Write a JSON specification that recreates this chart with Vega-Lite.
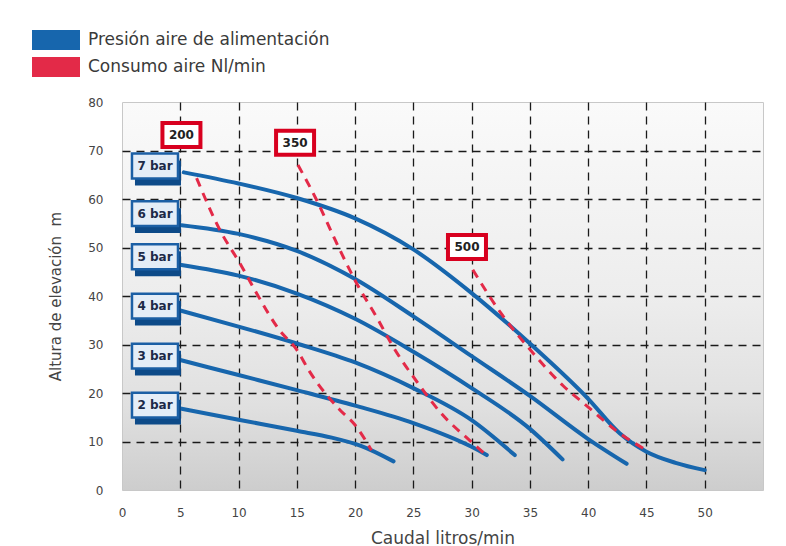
{
  "$schema": "https://vega.github.io/schema/vega-lite/v6.json",
  "autosize": {"type": "none"},
  "padding": {"left": 122, "top": 102, "right": 23, "bottom": 56},
  "width": 641,
  "height": 388,
  "background": "white",
  "config": {
    "font": "DejaVu Sans",
    "view": {
      "stroke": "#c8c8c8",
      "strokeWidth": 1,
      "fill": {"gradient": "linear", "x1": 0, "y1": 0, "x2": 0, "y2": 1,
        "stops": [
          {"offset": 0, "color": "#fafafa"},
          {"offset": 0.5, "color": "#ededed"},
          {"offset": 0.78, "color": "#e0e0e0"},
          {"offset": 1, "color": "#cdcdcd"}
        ]}
    },
    "axis": {
      "domain": false,
      "ticks": false,
      "labelFlush": false,
      "labelFont": "DejaVu Sans",
      "labelFontSize": 12,
      "labelColor": "#444444",
      "titleFont": "DejaVu Sans",
      "titleFontWeight": "normal",
      "titleColor": "#444444",
      "gridColor": "#1a1a1a",
      "gridDash": [8, 6],
      "gridWidth": 1.3
    }
  },
  "datasets": {
    "curves": [
      {"c": "7 bar", "t": "Presión aire de alimentación", "x": 5.3, "y": 65.5},
      {"c": "7 bar", "t": "Presión aire de alimentación", "x": 10, "y": 63.2},
      {"c": "7 bar", "t": "Presión aire de alimentación", "x": 15, "y": 60.2},
      {"c": "7 bar", "t": "Presión aire de alimentación", "x": 20, "y": 56},
      {"c": "7 bar", "t": "Presión aire de alimentación", "x": 25, "y": 49.6},
      {"c": "7 bar", "t": "Presión aire de alimentación", "x": 30, "y": 40.6},
      {"c": "7 bar", "t": "Presión aire de alimentación", "x": 35, "y": 30.2},
      {"c": "7 bar", "t": "Presión aire de alimentación", "x": 40, "y": 18.8},
      {"c": "7 bar", "t": "Presión aire de alimentación", "x": 42.7, "y": 11.7},
      {"c": "7 bar", "t": "Presión aire de alimentación", "x": 45, "y": 7.9},
      {"c": "7 bar", "t": "Presión aire de alimentación", "x": 47.5, "y": 5.6},
      {"c": "7 bar", "t": "Presión aire de alimentación", "x": 50, "y": 4.1},
      {"c": "6 bar", "t": "Presión aire de alimentación", "x": 5.1, "y": 54.6},
      {"c": "6 bar", "t": "Presión aire de alimentación", "x": 10, "y": 52.8},
      {"c": "6 bar", "t": "Presión aire de alimentación", "x": 15, "y": 49.3},
      {"c": "6 bar", "t": "Presión aire de alimentación", "x": 20, "y": 43.5},
      {"c": "6 bar", "t": "Presión aire de alimentación", "x": 25, "y": 35.8},
      {"c": "6 bar", "t": "Presión aire de alimentación", "x": 30, "y": 27.6},
      {"c": "6 bar", "t": "Presión aire de alimentación", "x": 35, "y": 19.4},
      {"c": "6 bar", "t": "Presión aire de alimentación", "x": 40, "y": 10.5},
      {"c": "6 bar", "t": "Presión aire de alimentación", "x": 43.3, "y": 5.4},
      {"c": "5 bar", "t": "Presión aire de alimentación", "x": 5.1, "y": 46.4},
      {"c": "5 bar", "t": "Presión aire de alimentación", "x": 10, "y": 44.2},
      {"c": "5 bar", "t": "Presión aire de alimentación", "x": 15, "y": 40.5},
      {"c": "5 bar", "t": "Presión aire de alimentación", "x": 20, "y": 35.3},
      {"c": "5 bar", "t": "Presión aire de alimentación", "x": 25, "y": 28.5},
      {"c": "5 bar", "t": "Presión aire de alimentación", "x": 30, "y": 21},
      {"c": "5 bar", "t": "Presión aire de alimentación", "x": 35, "y": 12.6},
      {"c": "5 bar", "t": "Presión aire de alimentación", "x": 37.8, "y": 6.3},
      {"c": "4 bar", "t": "Presión aire de alimentación", "x": 5, "y": 37},
      {"c": "4 bar", "t": "Presión aire de alimentación", "x": 10, "y": 33.7},
      {"c": "4 bar", "t": "Presión aire de alimentación", "x": 15, "y": 30.2},
      {"c": "4 bar", "t": "Presión aire de alimentación", "x": 20, "y": 26.3},
      {"c": "4 bar", "t": "Presión aire de alimentación", "x": 25, "y": 21},
      {"c": "4 bar", "t": "Presión aire de alimentación", "x": 30, "y": 14.4},
      {"c": "4 bar", "t": "Presión aire de alimentación", "x": 33.7, "y": 7.2},
      {"c": "3 bar", "t": "Presión aire de alimentación", "x": 5, "y": 26.8},
      {"c": "3 bar", "t": "Presión aire de alimentación", "x": 10, "y": 23.7},
      {"c": "3 bar", "t": "Presión aire de alimentación", "x": 15, "y": 20.6},
      {"c": "3 bar", "t": "Presión aire de alimentación", "x": 20, "y": 17.4},
      {"c": "3 bar", "t": "Presión aire de alimentación", "x": 25, "y": 13.8},
      {"c": "3 bar", "t": "Presión aire de alimentación", "x": 30, "y": 8.9},
      {"c": "3 bar", "t": "Presión aire de alimentación", "x": 31.3, "y": 7.2},
      {"c": "2 bar", "t": "Presión aire de alimentación", "x": 5, "y": 16.8},
      {"c": "2 bar", "t": "Presión aire de alimentación", "x": 10, "y": 14.5},
      {"c": "2 bar", "t": "Presión aire de alimentación", "x": 15, "y": 12.2},
      {"c": "2 bar", "t": "Presión aire de alimentación", "x": 18, "y": 10.8},
      {"c": "2 bar", "t": "Presión aire de alimentación", "x": 20.5, "y": 9.1},
      {"c": "2 bar", "t": "Presión aire de alimentación", "x": 23.3, "y": 5.9},
      {"c": "200", "t": "Consumo aire Nl/min", "x": 6.4, "y": 64.3},
      {"c": "200", "t": "Consumo aire Nl/min", "x": 8.4, "y": 53.6},
      {"c": "200", "t": "Consumo aire Nl/min", "x": 10.2, "y": 46.4},
      {"c": "200", "t": "Consumo aire Nl/min", "x": 11.4, "y": 41.2},
      {"c": "200", "t": "Consumo aire Nl/min", "x": 13.5, "y": 33},
      {"c": "200", "t": "Consumo aire Nl/min", "x": 15, "y": 28.9},
      {"c": "200", "t": "Consumo aire Nl/min", "x": 16.1, "y": 24.4},
      {"c": "200", "t": "Consumo aire Nl/min", "x": 18.7, "y": 16.5},
      {"c": "200", "t": "Consumo aire Nl/min", "x": 20, "y": 13.4},
      {"c": "200", "t": "Consumo aire Nl/min", "x": 21.4, "y": 8.2},
      {"c": "350", "t": "Consumo aire Nl/min", "x": 15.1, "y": 67},
      {"c": "350", "t": "Consumo aire Nl/min", "x": 16.7, "y": 59.8},
      {"c": "350", "t": "Consumo aire Nl/min", "x": 18.3, "y": 51.5},
      {"c": "350", "t": "Consumo aire Nl/min", "x": 20, "y": 43.2},
      {"c": "350", "t": "Consumo aire Nl/min", "x": 22, "y": 35},
      {"c": "350", "t": "Consumo aire Nl/min", "x": 23.1, "y": 30.2},
      {"c": "350", "t": "Consumo aire Nl/min", "x": 25.4, "y": 22},
      {"c": "350", "t": "Consumo aire Nl/min", "x": 27.5, "y": 15.5},
      {"c": "350", "t": "Consumo aire Nl/min", "x": 29.8, "y": 10.3},
      {"c": "350", "t": "Consumo aire Nl/min", "x": 31.4, "y": 6.9},
      {"c": "500", "t": "Consumo aire Nl/min", "x": 30.1, "y": 45.4},
      {"c": "500", "t": "Consumo aire Nl/min", "x": 32.5, "y": 36.5},
      {"c": "500", "t": "Consumo aire Nl/min", "x": 35.1, "y": 28.7},
      {"c": "500", "t": "Consumo aire Nl/min", "x": 37.85, "y": 21.5},
      {"c": "500", "t": "Consumo aire Nl/min", "x": 39.8, "y": 17.5},
      {"c": "500", "t": "Consumo aire Nl/min", "x": 42.7, "y": 11.7},
      {"c": "500", "t": "Consumo aire Nl/min", "x": 45, "y": 8.2}
    ],
    "pressLabels": [
      {"label": "7 bar", "x": 2.83, "y": 66.8},
      {"label": "6 bar", "x": 2.83, "y": 57},
      {"label": "5 bar", "x": 2.83, "y": 48.1},
      {"label": "4 bar", "x": 2.83, "y": 37.9},
      {"label": "3 bar", "x": 2.83, "y": 27.6},
      {"label": "2 bar", "x": 2.83, "y": 17.5}
    ],
    "consLabels": [
      {"label": "200", "x": 5.1, "y": 73.2},
      {"label": "350", "x": 14.85, "y": 71.6},
      {"label": "500", "x": 29.6, "y": 50.1}
    ]
  },
  "layer": [
    {
      "data": {"name": "curves"},
      "transform": [{"filter": "datum.t === 'Presión aire de alimentación'"}],
      "mark": {"type": "line", "interpolate": "monotone", "strokeWidth": 4, "strokeCap": "round"},
      "encoding": {
        "x": {"field": "x", "type": "quantitative",
          "scale": {"domain": [0, 55], "nice": false},
          "axis": {"values": [0, 5, 10, 15, 20, 25, 30, 35, 40, 45, 50],
            "title": "Caudal litros/min", "titleFontSize": 17, "labelPadding": 17, "titlePadding": 12,
            "gridOpacity": {"condition": {"test": "datum.value === 0", "value": 0}, "value": 1}}},
        "y": {"field": "y", "type": "quantitative",
          "scale": {"domain": [0, 80], "nice": false},
          "axis": {"values": [0, 10, 20, 30, 40, 50, 60, 70, 80],
            "title": "Altura de elevación\u00a0\u00a0m", "titleFontSize": 15, "labelPadding": 19, "titlePadding": 24,
            "gridOpacity": {"condition": {"test": "datum.value === 0 || datum.value === 80", "value": 0}, "value": 1}}},
        "detail": {"field": "c"},
        "color": {"field": "t", "type": "nominal",
          "scale": {"domain": ["Presión aire de alimentación", "Consumo aire Nl/min"], "range": ["#1766ad", "#e32a48"]},
          "legend": {
            "title": null, "orient": "none", "legendX": -76, "legendY": -72,
            "padding": 0, "offset": 0,
            "symbolType": "M-2.4,-1 h4.8 v2 h-4.8 z",
            "symbolSize": 400,
            "symbolStrokeWidth": 0,
            "labelFont": "DejaVu Sans", "labelFontSize": 17, "labelColor": "#3a3a3a",
            "labelLimit": 0,
            "labelOffset": 22, "rowPadding": 7,
            "encode": {"symbols": {"update": {"fill": {"scale": "color", "field": "value"}, "fillOpacity": {"value": 1}, "strokeWidth": {"value": 0}}}}
          }}
      }
    },
    {
      "data": {"name": "curves"},
      "transform": [{"filter": "datum.t === 'Consumo aire Nl/min'"}],
      "mark": {"type": "line", "interpolate": "monotone", "strokeWidth": 3, "strokeDash": [9, 7]},
      "encoding": {
        "x": {"field": "x", "type": "quantitative"},
        "y": {"field": "y", "type": "quantitative"},
        "detail": {"field": "c"},
        "color": {"field": "t", "type": "nominal"}
      }
    },
    {
      "data": {"name": "pressLabels"},
      "mark": {"type": "point", "shape": "M-1,-0.54 h2 v1.08 h-2 z", "size": 2116, "filled": true, "fill": "#0d4a88", "opacity": 1, "xOffset": 3, "yOffset": 7},
      "encoding": {"x": {"field": "x", "type": "quantitative"}, "y": {"field": "y", "type": "quantitative"}}
    },
    {
      "data": {"name": "pressLabels"},
      "mark": {"type": "point", "shape": "M-1,-0.54 h2 v1.08 h-2 z", "size": 2116, "filled": true, "fill": "#e4edf7", "stroke": "#1b5fa5", "strokeWidth": 2.5, "opacity": 1},
      "encoding": {"x": {"field": "x", "type": "quantitative"}, "y": {"field": "y", "type": "quantitative"}}
    },
    {
      "data": {"name": "pressLabels"},
      "mark": {"type": "text", "font": "DejaVu Sans", "fontSize": 12, "fontWeight": "bold", "color": "#1c2a48", "baseline": "middle", "align": "center"},
      "encoding": {"x": {"field": "x", "type": "quantitative"}, "y": {"field": "y", "type": "quantitative"}, "text": {"field": "label"}}
    },
    {
      "data": {"name": "consLabels"},
      "mark": {"type": "point", "shape": "M-1,-0.63 h2 v1.26 h-2 z", "size": 1444, "filled": true, "fill": "white", "stroke": "#d8001f", "strokeWidth": 4, "opacity": 1},
      "encoding": {"x": {"field": "x", "type": "quantitative"}, "y": {"field": "y", "type": "quantitative"}}
    },
    {
      "data": {"name": "consLabels"},
      "mark": {"type": "text", "font": "DejaVu Sans", "fontSize": 12, "fontWeight": "bold", "color": "#222222", "baseline": "middle", "align": "center"},
      "encoding": {"x": {"field": "x", "type": "quantitative"}, "y": {"field": "y", "type": "quantitative"}, "text": {"field": "label"}}
    }
  ]
}
